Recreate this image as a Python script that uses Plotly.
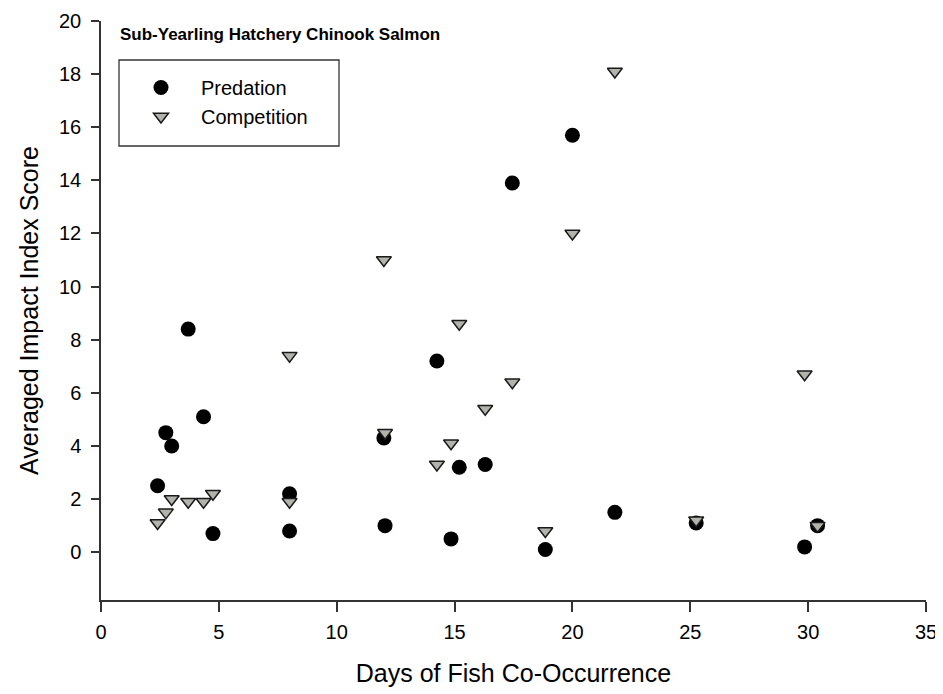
import plotly.graph_objects as go

days = [2.4, 2.75, 3.0, 3.7, 4.35, 4.75, 8.0, 8.0, 12.0, 12.05, 14.25, 14.85, 15.2, 16.3, 17.45, 18.85, 20.0, 21.8, 25.25, 29.85, 30.4]
predation = [2.5, 4.5, 4.0, 8.4, 5.1, 0.7, 2.2, 0.8, 4.3, 1.0, 7.2, 0.5, 3.2, 3.3, 13.9, 0.1, 15.7, 1.5, 1.1, 0.2, 1.0]
comp_days = [2.4, 2.75, 3.0, 3.7, 4.35, 4.75, 8.0, 8.0, 12.05, 12.0, 14.25, 14.85, 15.2, 16.3, 17.45, 18.85, 20.0, 21.8, 25.25, 29.85, 30.4]
competition = [1.1, 1.5, 2.0, 1.9, 1.9, 2.2, 1.9, 7.4, 4.5, 11.0, 3.3, 4.1, 8.6, 5.4, 6.4, 0.8, 12.0, 18.1, 1.2, 6.7, 1.0]

x_ticks = [0, 5, 10, 15, 20, 25, 30, 35]
y_ticks = [0, 2, 4, 6, 8, 10, 12, 14, 16, 18, 20]

FONT = "Arial, Liberation Sans, sans-serif"
PAD = "\u00a0" * 2

# page body has an 8px default margin; compensate so plot area matches reference
W, H = 935, 686
ML, MR, MT, MB = 93, 17, 13, 94
PW = W - ML - MR
PH = H - MT - MB


def px_x(p):  # page pixel -> paper x
    return (p - 8 - ML) / PW


def px_y(p):  # page pixel -> paper y
    return (H - MB + 8 - p) / PH


fig = go.Figure()
fig.add_trace(go.Scatter(
    x=days, y=predation, mode="markers", name="Predation" + PAD,
    marker=dict(symbol="circle", size=15, color="black", line=dict(width=0)),
))
fig.add_trace(go.Scatter(
    x=comp_days, y=competition, mode="markers", name="Competition" + PAD,
    marker=dict(symbol="triangle-down", size=13, color="#b3b3ab",
                line=dict(width=1.5, color="#1a1a1a")),
))

fig.update_layout(
    width=W, height=H,
    margin=dict(l=ML, r=MR, t=MT, b=MB),
    paper_bgcolor="white", plot_bgcolor="white",
    font=dict(family=FONT, color="black"),
    showlegend=True,
    legend=dict(
        x=px_x(121), y=px_y(68), xanchor="left", yanchor="top",
        borderwidth=0, bgcolor="rgba(0,0,0,0)",
        font=dict(size=20, family=FONT),
        itemwidth=70,
        tracegroupgap=0,
    ),
    shapes=[dict(
        type="rect", xref="paper", yref="paper",
        x0=px_x(119), x1=px_x(339), y0=px_y(146), y1=px_y(60),
        line=dict(color="#333333", width=1.3), fillcolor="rgba(0,0,0,0)", layer="below",
    )],
    annotations=[dict(
        text="<b>Sub-Yearling Hatchery Chinook Salmon</b>",
        xref="paper", yref="paper", x=px_x(118), y=px_y(34),
        xanchor="left", yanchor="middle", showarrow=False,
        font=dict(size=17, family=FONT),
    )],
)

fig.update_xaxes(
    range=[0, 35], tickvals=x_ticks, showgrid=False, zeroline=False,
    showline=True, linecolor="#333333", linewidth=1.5, automargin=False,
    ticks="outside", ticklen=10, tickwidth=1.5, tickcolor="#333333",
    ticklabelstandoff=3,
    tickfont=dict(size=20, family=FONT),
    title=dict(text="Days of Fish Co-Occurrence", font=dict(size=25, family=FONT), standoff=23),
)
fig.update_yaxes(
    range=[-1.8, 20], tickvals=y_ticks, showgrid=False, zeroline=False,
    showline=True, linecolor="#333333", linewidth=1.5, automargin=False,
    ticks="outside", ticklen=8, tickwidth=1.5, tickcolor="#333333",
    ticklabelstandoff=6,
    tickfont=dict(size=20, family=FONT),
    title=dict(text="Averaged Impact Index Score", font=dict(size=25, family=FONT), standoff=13),
)

fig.write_html("out.html")
